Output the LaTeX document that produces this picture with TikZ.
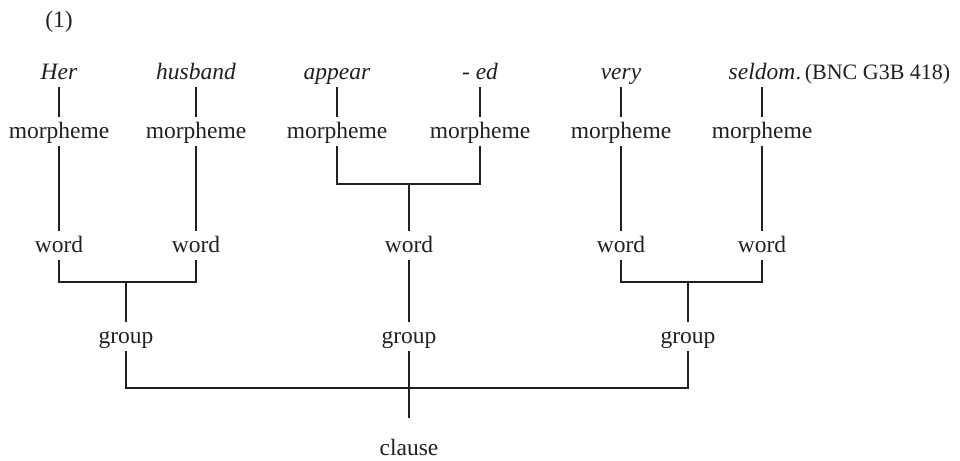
\documentclass[tikz,border=0pt]{standalone}
\usepackage{fontspec}
\setmainfont{Liberation Serif}
\definecolor{ink}{HTML}{231F20}
\begin{document}
\begin{tikzpicture}[x=1pt,y=-1pt,
  lbl/.style={inner xsep=2pt,inner ysep=4pt,text height=17pt,text depth=4pt,
              anchor=base,text=ink,font=\fontsize{23.5}{27}\selectfont},
  src/.style={lbl,font=\fontsize{23.5}{27}\selectfont\itshape},
  link/.style={draw=ink,line width=1.2pt}]
\useasboundingbox (0,0) rectangle (960,460);

% example number
\node[lbl] (num) at (59,28) {(1)};

% source words
\node[src] (t1) at (59,79)  {Her};
\node[src] (t2) at (196,79) {husband};
\node[src] (t3) at (337,79) {appear};
\node[src] (t4) at (480,79) {- ed};
\node[src] (t5) at (621,79) {very};
\node[src] (t6) at (762,79) {seldom};
\node[lbl,anchor=base west,inner xsep=0pt,font=\fontsize{22}{27}\selectfont] (ref)
  at ([xshift=-2pt]t6.base east) {.\,(BNC G3B 418)};

% morphemes
\foreach \i/\x in {1/59,2/196,3/337,4/480,5/621,6/762}
  \node[lbl] (m\i) at (\x,138) {morpheme};

% words
\node[lbl] (w1) at (59,252)  {word};
\node[lbl] (w2) at (196,252) {word};
\node[lbl] (w3) at (409,252) {word};
\node[lbl] (w4) at (621,252) {word};
\node[lbl] (w5) at (762,252) {word};

% groups
\node[lbl] (g1) at (126,343) {group};
\node[lbl] (g2) at (409,343) {group};
\node[lbl] (g3) at (688,343) {group};

% clause
\node[lbl] (cl) at (409,455) {clause};

% junction points
\coordinate (j1) at (409,184);
\coordinate (j2) at (126,282);
\coordinate (j3) at (688,282);
\coordinate (j4) at (409,388);
\coordinate (cend) at (409,418);

% source word to morpheme
\foreach \i in {1,...,6}
  \draw[link] (t\i.south) -- (m\i.north);

% morpheme to word
\draw[link] (m1.south) -- (w1.north);
\draw[link] (m2.south) -- (w2.north);
\draw[link] (m3.south) |- (j1) -| (m4.south);
\draw[link] (j1) -- (w3.north);
\draw[link] (m5.south) -- (w4.north);
\draw[link] (m6.south) -- (w5.north);

% word to group
\draw[link] (w1.south) |- (j2) -| (w2.south);
\draw[link] (j2) -- (g1.north);
\draw[link] (w3.south) -- (g2.north);
\draw[link] (w4.south) |- (j3) -| (w5.south);
\draw[link] (j3) -- (g3.north);

% group to clause
\draw[link] (g1.south) |- (j4) -| (g3.south);
\draw[link] (g2.south) -- (cend);
\end{tikzpicture}
\end{document}
